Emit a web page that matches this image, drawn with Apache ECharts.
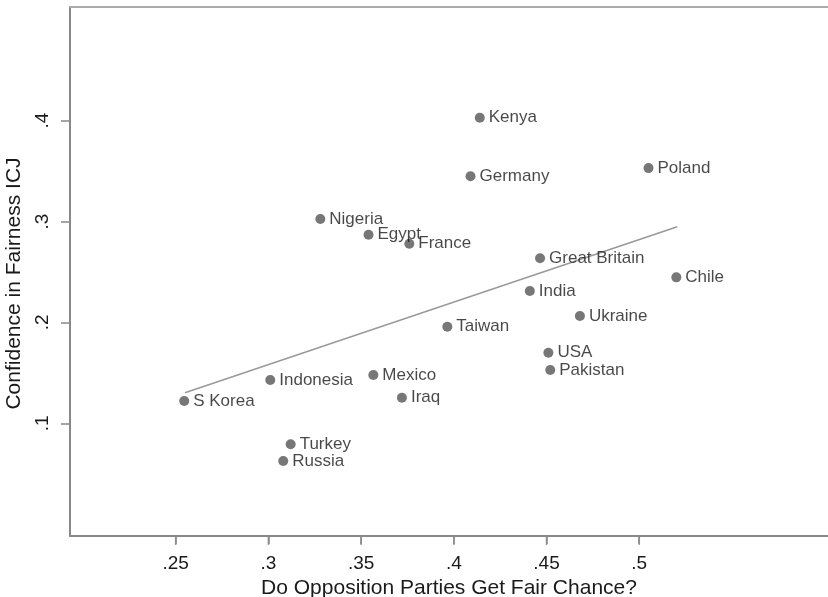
<!DOCTYPE html>
<html>
<head>
<meta charset="utf-8">
<script src="https://cdn.jsdelivr.net/npm/echarts@6/dist/echarts.min.js"></script>
<style>
html,body{margin:0;padding:0;background:#fff;}
#chart{width:828px;height:597px;}
</style>
</head>
<body>
<div id="chart"></div>
<script>
const countries = ["Kenya","Germany","Nigeria","Egypt","France","Poland","Great Britain","Chile","India","Ukraine","Taiwan","USA","Pakistan","Mexico","Iraq","S Korea","Indonesia","Turkey","Russia"];
const xValues = [0.414,0.409,0.328,0.354,0.376,0.505,0.4465,0.520,0.441,0.468,0.3965,0.451,0.452,0.3566,0.372,0.2546,0.301,0.312,0.308];
const yValues = [0.403,0.345,0.3025,0.287,0.278,0.353,0.2636,0.2447,0.2312,0.2064,0.1958,0.170,0.1528,0.1479,0.1254,0.1221,0.1429,0.0792,0.0626];
const fitX = [0.255, 0.5205];
const fitY = [0.1303, 0.2949];
const xTicks = [0.25,0.3,0.35,0.4,0.45,0.5];
const yTicks = [0.1,0.2,0.3,0.4];
const xRange = [0.193, 0.6018];
const yRange = [-0.0117, 0.5127];

const fmt = v => String(v).replace(/^0/, '');
const pts = countries.map((c,i)=>({name:c, value:[xValues[i], yValues[i]]}));
const fitData = fitX.map((x,i)=>[x, fitY[i]]);
const tickData = xTicks.map(v=>[v, yRange[0]]);

const chart = echarts.init(document.getElementById('chart'), null, {renderer:'canvas'});
const FONT = 'Liberation Sans, Arial, sans-serif';
chart.setOption({
  backgroundColor:'#fff',
  animation:false,
  grid:{left:70, right:0, top:7, bottom:61, containLabel:false, outerBoundsMode:'none'},
  xAxis:[{
    type:'value', min:xRange[0], max:xRange[1],
    axisLine:{show:true, onZero:false, lineStyle:{color:'#888', width:2}},
    axisTick:{show:true, inside:false, customValues:xTicks, length:8, lineStyle:{color:'#888', width:1.5}},
    axisLabel:{customValues:xTicks, formatter:fmt, color:'#1a1a1a', fontSize:19, fontFamily:FONT, margin:18},
    splitLine:{show:false},
    name:'Do Opposition Parties Get Fair Chance?', nameLocation:'middle', nameGap:38,
    nameTextStyle:{color:'#1a1a1a', fontSize:21, fontFamily:FONT}
  },{
    type:'value', position:'top', min:xRange[0], max:xRange[1],
    axisLine:{show:true, onZero:false, lineStyle:{color:'#aaa', width:2}},
    axisTick:{show:false}, axisLabel:{show:false}, splitLine:{show:false}
  }],
  yAxis:{
    type:'value', min:yRange[0], max:yRange[1],
    axisLine:{show:true, onZero:false, lineStyle:{color:'#888', width:2}},
    axisTick:{show:true, customValues:yTicks, length:9, lineStyle:{color:'#888', width:1.5}},
    axisLabel:{customValues:yTicks, formatter:fmt, color:'#1a1a1a', fontSize:19, fontFamily:FONT, rotate:90, margin:18},
    splitLine:{show:false},
    name:'Confidence in Fairness ICJ', nameLocation:'middle', nameGap:40,
    nameTextStyle:{color:'#1a1a1a', fontSize:21, fontFamily:FONT, padding:[0,24,0,0]}
  },
  series:[{
    type:'scatter', data:tickData, silent:true, clip:false,
    symbol:'rect', symbolSize:[1.6, 8], symbolOffset:[0, 5],
    itemStyle:{color:'#888'}, label:{show:false}, z:5
  },{
    type:'line', data:fitData, symbol:'none',
    lineStyle:{color:'#999', width:1.5}, z:1
  },{
    type:'scatter', data:pts, symbol:'circle', symbolSize:10,
    itemStyle:{color:'#555'},
    label:{show:true, position:'right', distance:4, formatter:p=>p.name, color:'#1a1a1a', fontSize:17, fontFamily:FONT},
    z:2
  }]
});
</script>
</body>
</html>
